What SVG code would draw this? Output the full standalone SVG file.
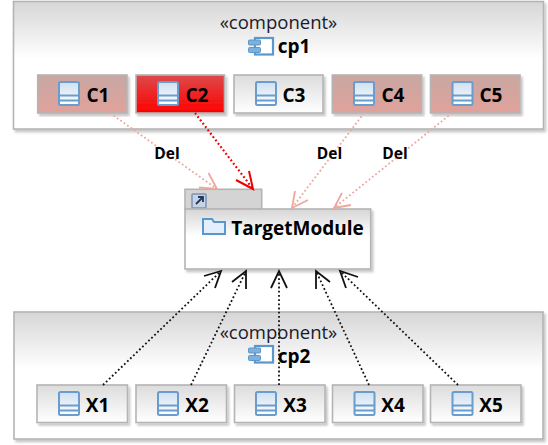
<svg xmlns="http://www.w3.org/2000/svg" width="548" height="445" viewBox="0 0 548 445">
<style>
text{font-family:"Open Sans","Noto Sans","Liberation Sans",sans-serif;fill:#000}
.st{font-size:18.500px;text-anchor:middle;fill:#1a1a2a}
.nm{font-size:19px;font-weight:700;text-anchor:middle}
.del{font-size:15.500px;font-weight:700;text-anchor:middle}
.box{stroke:#b4b4b4;stroke-width:1.6}
.cn{fill:none;stroke-width:1.8;stroke-dasharray:1.8 2.4}
.pink{stroke:#eda79f}
.red{stroke:#f00000;stroke-width:2.2}
.blk{stroke:#111}
</style>
<defs>
<linearGradient id="gc" x1="0" y1="0" x2="0" y2="1"><stop offset="0" stop-color="#d6d6d6"/><stop offset="0.45" stop-color="#fff"/><stop offset="1" stop-color="#fff"/></linearGradient>
<linearGradient id="gw" x1="0" y1="0" x2="0" y2="1"><stop offset="0" stop-color="#dcdcdc"/><stop offset="1" stop-color="#fff"/></linearGradient>
<linearGradient id="gr" x1="0" y1="0" x2="0" y2="1"><stop offset="0" stop-color="#dc4a4a"/><stop offset="1" stop-color="#ff0000"/></linearGradient>
<linearGradient id="gp" x1="0" y1="0" x2="0" y2="1"><stop offset="0" stop-color="#c9a7a2"/><stop offset="1" stop-color="#e0a29b"/></linearGradient>
<linearGradient id="gi" x1="0" y1="0" x2="0" y2="1"><stop offset="0" stop-color="#cfdff0"/><stop offset="1" stop-color="#fff"/></linearGradient>
<filter id="sh" x="-5%" y="-5%" width="110%" height="115%"><feDropShadow dx="2" dy="2.5" stdDeviation="1.2" flood-color="#000" flood-opacity="0.22"/></filter>
<g id="cls">
<rect x="1" y="1" width="20" height="23" rx="1.5" fill="url(#gi)" stroke="#6a9ccd" stroke-width="2"/>
<path d="M1 14.500H21M1 19.500H21" stroke="#6a9ccd" stroke-width="1.800" fill="none"/>
</g>
<g id="cmp">
<rect x="7" y="1" width="18" height="16.500" fill="#fff" stroke="#5a97cc" stroke-width="2.200"/>
<rect x="0.500" y="3" width="12" height="5" rx="1" fill="#7fb0da" stroke="#5a97cc"/>
<rect x="0.500" y="10.500" width="12" height="5" rx="1" fill="#7fb0da" stroke="#5a97cc"/>
</g>
</defs>
<g id="cp1"><rect class="box" x="13.500" y="1.500" width="530" height="127.500" fill="url(#gc)" filter="url(#sh)"/>
<text class="st" x="278.500" y="28.500">«component»</text><use href="#cmp" x="248" y="37"/><text class="nm" x="294" y="53">cp1</text></g>
<g id="cp2"><rect class="box" x="14" y="312" width="529" height="127" fill="url(#gc)" filter="url(#sh)"/>
<text class="st" x="278.500" y="338.500">«component»</text><use href="#cmp" x="248" y="345"/><text class="nm" x="294" y="363">cp2</text></g>
<g id="C1"><rect class="box" x="37.700" y="75" width="89.300" height="38" fill="url(#gp)" filter="url(#sh)"/><use href="#cls" x="58" y="81"/><text class="nm" x="98" y="102">C1</text></g>
<g id="C2"><rect class="box" x="136" y="75" width="88.500" height="38" fill="url(#gr)" filter="url(#sh)"/><use href="#cls" x="157" y="81"/><text class="nm" x="197" y="102">C2</text></g>
<g id="C3"><rect class="box" x="234" y="75" width="89" height="38" fill="url(#gw)" filter="url(#sh)"/><use href="#cls" x="255" y="81"/><text class="nm" x="294" y="102">C3</text></g>
<g id="C4"><rect class="box" x="332.300" y="75" width="89.400" height="38" fill="url(#gp)" filter="url(#sh)"/><use href="#cls" x="353" y="81"/><text class="nm" x="393" y="102">C4</text></g>
<g id="C5"><rect class="box" x="430.500" y="75" width="89.500" height="38" fill="url(#gp)" filter="url(#sh)"/><use href="#cls" x="451.500" y="81"/><text class="nm" x="491" y="102">C5</text></g>
<g id="X1"><rect class="box" x="37" y="385" width="90.500" height="37.500" fill="url(#gw)" filter="url(#sh)"/><use href="#cls" x="58" y="391"/><text class="nm" x="97.500" y="412">X1</text></g>
<g id="X2"><rect class="box" x="136" y="385" width="90.500" height="37.500" fill="url(#gw)" filter="url(#sh)"/><use href="#cls" x="157" y="391"/><text class="nm" x="197" y="412">X2</text></g>
<g id="X3"><rect class="box" x="234.500" y="385" width="90.500" height="37.500" fill="url(#gw)" filter="url(#sh)"/><use href="#cls" x="255" y="391"/><text class="nm" x="295" y="412">X3</text></g>
<g id="X4"><rect class="box" x="332.500" y="385" width="90.500" height="37.500" fill="url(#gw)" filter="url(#sh)"/><use href="#cls" x="353.500" y="391"/><text class="nm" x="393" y="412">X4</text></g>
<g id="X5"><rect class="box" x="430.500" y="385" width="90.500" height="37.500" fill="url(#gw)" filter="url(#sh)"/><use href="#cls" x="451.500" y="391"/><text class="nm" x="491" y="412">X5</text></g>
<g id="TargetModule">
<rect class="box" x="185" y="189.300" width="76.700" height="20" fill="#d4d4d4"/>
<rect x="192" y="194" width="14" height="14" rx="1" fill="#c6d3e4" stroke="#7f93b3" stroke-width="1.500"/><path d="M196 204L203 197M198 197H203V202" fill="none" stroke="#22375e" stroke-width="1.800"/>
<rect class="box" x="185" y="209" width="185.700" height="60" fill="url(#gc)" filter="url(#sh)"/>
<path d="M203 219H212L214 222H225V234H203Z" fill="#e3effa" stroke="#5a97cc" stroke-width="2"/>
<text class="nm" x="297.500" y="234.500">TargetModule</text>
</g>
<g id="connectors">
<g fill="none" stroke="#eda79f" stroke-width="1.800">
<path class="cn pink" d="M110 113L217 189"/><path d="M208.500 173L217 189L199 187.500"/>
<path class="cn pink" d="M364 113L292 208"/><path d="M295 191L292 208L308 200"/>
<path class="cn pink" d="M452 113L334 208"/><path d="M342 193L334 208L351 205"/>
</g>
<g fill="none" stroke="#f00000" stroke-width="2">
<path class="cn red" d="M195 113L253 189"/><path d="M249 171L253 189L236 180"/>
</g>
<g fill="none" stroke="#111" stroke-width="1.800">
<path class="cn blk" d="M103 385L221 271"/><path d="M204 276L221 271L215 288"/>
<path class="cn blk" d="M191 385L246 271"/><path d="M232 282L246 271L246 289"/>
<path class="cn blk" d="M279 385L279 271"/><path d="M271 288L279 271L287 288"/>
<path class="cn blk" d="M369 385L316 271"/><path d="M316 289L316 271L330 282"/>
<path class="cn blk" d="M458 385L340 271"/><path d="M346 288L340 271L358 277"/>
</g>
<text class="del" x="167" y="159">Del</text>
<text class="del" x="329.500" y="159">Del</text>
<text class="del" x="395" y="159">Del</text>
</g>
</svg>
